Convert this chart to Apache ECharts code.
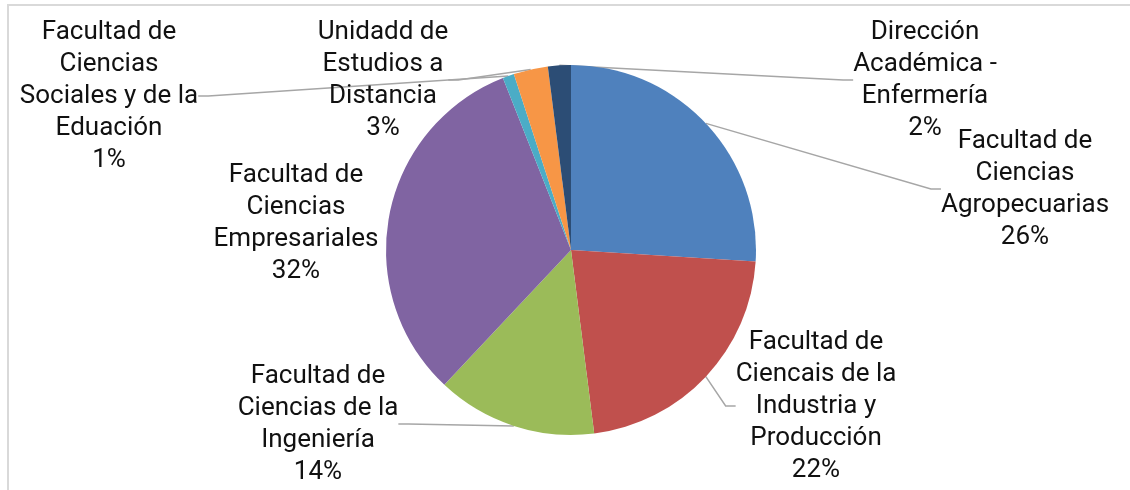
<!DOCTYPE html>
<html>
<head>
<meta charset="utf-8">
<script src="https://cdn.jsdelivr.net/npm/echarts@6/dist/echarts.min.js"></script>
<style>
  html, body { margin: 0; padding: 0; background: #fff; }
  #chart { width: 1130px; height: 490px; }
</style>
</head>
<body>
<div id="chart"></div>
<script>
// slice names (line breaks as in the original labels)
const categories = [
  'Facultad de\nCiencias\nAgropecuarias',
  'Facultad de\nCiencais de la\nIndustria y\nProducción',
  'Facultad de\nCiencias de la\nIngeniería',
  'Facultad de\nCiencias\nEmpresariales',
  'Facultad de\nCiencias\nSociales y de la\nEduación',
  'Unidadd de\nEstudios a\nDistancia',
  'Dirección\nAcadémica -\nEnfermería'
]
// share of each unit, in %
const values = [26, 22, 14, 32, 1, 3, 2]

const colors = ['#4F81BD', '#C0504D', '#9BBB59', '#8064A2', '#4BACC6', '#F79646', '#2C4D75']

// where each label block sits (centre of the text)
const labelPos = [
  [1025, 189],
  [816, 406],
  [318, 424],
  [296, 223],
  [109, 96],
  [383, 80],
  [925, 80]
]

const chart = echarts.init(document.getElementById('chart'))

chart.setOption({
  animation: false,
  color: colors,
  graphic: [{
    type: 'rect',
    shape: { x: 8, y: 5, width: 1200, height: 600 },
    style: { fill: 'none', stroke: '#d9d9d9', lineWidth: 2 },
    silent: true
  }],
  series: [{
    type: 'pie',
    center: [571, 250],
    radius: 185,
    startAngle: 90,
    clockwise: true,
    data: categories.map((name, i) => ({
      name,
      value: values[i],
      // the big slice's label sits next to it, no leader line
      labelLine: { show: i !== 3 }
    })),
    label: {
      show: true,
      formatter: '{b}\n{c}%',
      fontFamily: 'Roboto',
      fontSize: 26,
      lineHeight: 32,
      color: '#111',
      align: 'center'
    },
    labelLine: {
      show: true,
      length: 10,
      length2: 10,
      lineStyle: { color: '#a6a6a6', width: 1.5 }
    },
    labelLayout(params) {
      const p = labelPos[params.dataIndex]
      return { x: p[0], y: p[1], align: 'center', verticalAlign: 'middle' }
    },
    itemStyle: { borderWidth: 0 }
  }]
})
</script>
</body>
</html>
